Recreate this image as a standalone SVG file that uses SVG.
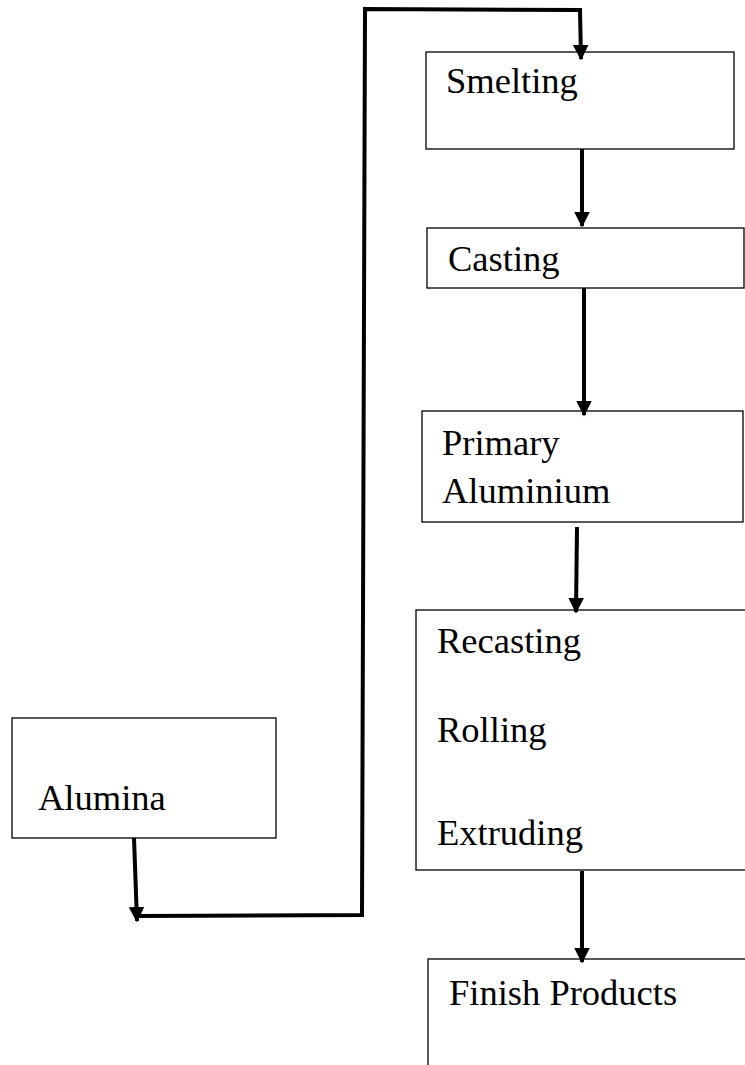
<svg xmlns="http://www.w3.org/2000/svg" width="745" height="1065" viewBox="0 0 745 1065">
<style>
.box{fill:#fff;stroke:#000;stroke-width:1.3}
.lbl{font-family:"Liberation Serif","Times New Roman",serif;font-size:36.5px;fill:#000}
.con{fill:none;stroke:#000;stroke-width:4;stroke-linejoin:miter}
</style>
<defs>
<marker id="ah" viewBox="0 0 10 10" refX="9" refY="5" markerWidth="3.9" markerHeight="3.9" markerUnits="strokeWidth" orient="auto">
<path d="M0,0 L10,5 L0,10 Z" fill="#000"/>
</marker>
</defs>
<rect width="745" height="1065" fill="#fff"/>
<g id="smelting"><rect class="box" x="426" y="52" width="308" height="97"/><text class="lbl" x="446" y="93">Smelting</text></g>
<g id="casting"><rect class="box" x="427" y="228" width="317" height="60"/><text class="lbl" x="448" y="271">Casting</text></g>
<g id="primary"><rect class="box" x="422" y="411" width="321" height="111"/><text class="lbl" x="442" y="455">Primary</text><text class="lbl" x="442" y="503">Aluminium</text></g>
<g id="recasting"><rect class="box" x="416" y="610" width="340" height="260"/><text class="lbl" x="437" y="653">Recasting</text><text class="lbl" x="437" y="742">Rolling</text><text class="lbl" x="437" y="845">Extruding</text></g>
<g id="finish"><rect class="box" x="428" y="959" width="340" height="130"/><text class="lbl" x="449" y="1005">Finish Products</text></g>
<g id="alumina"><rect class="box" x="12" y="718" width="264" height="120"/><text class="lbl" x="38" y="810">Alumina</text></g>
<g id="connectors">
<path class="con" d="M582,149 L582,226" marker-end="url(#ah)"/>
<path class="con" d="M584,288 L584,415" marker-end="url(#ah)"/>
<path class="con" d="M577,527 L576,612" marker-end="url(#ah)"/>
<path class="con" d="M582,871 L582,962" marker-end="url(#ah)"/>
<path class="con" d="M134,838 L137,921" marker-end="url(#ah)"/>
<path class="con" d="M137,916 L362,915 L365,9 L580,10 L581,59" marker-end="url(#ah)"/>
</g>
</svg>
